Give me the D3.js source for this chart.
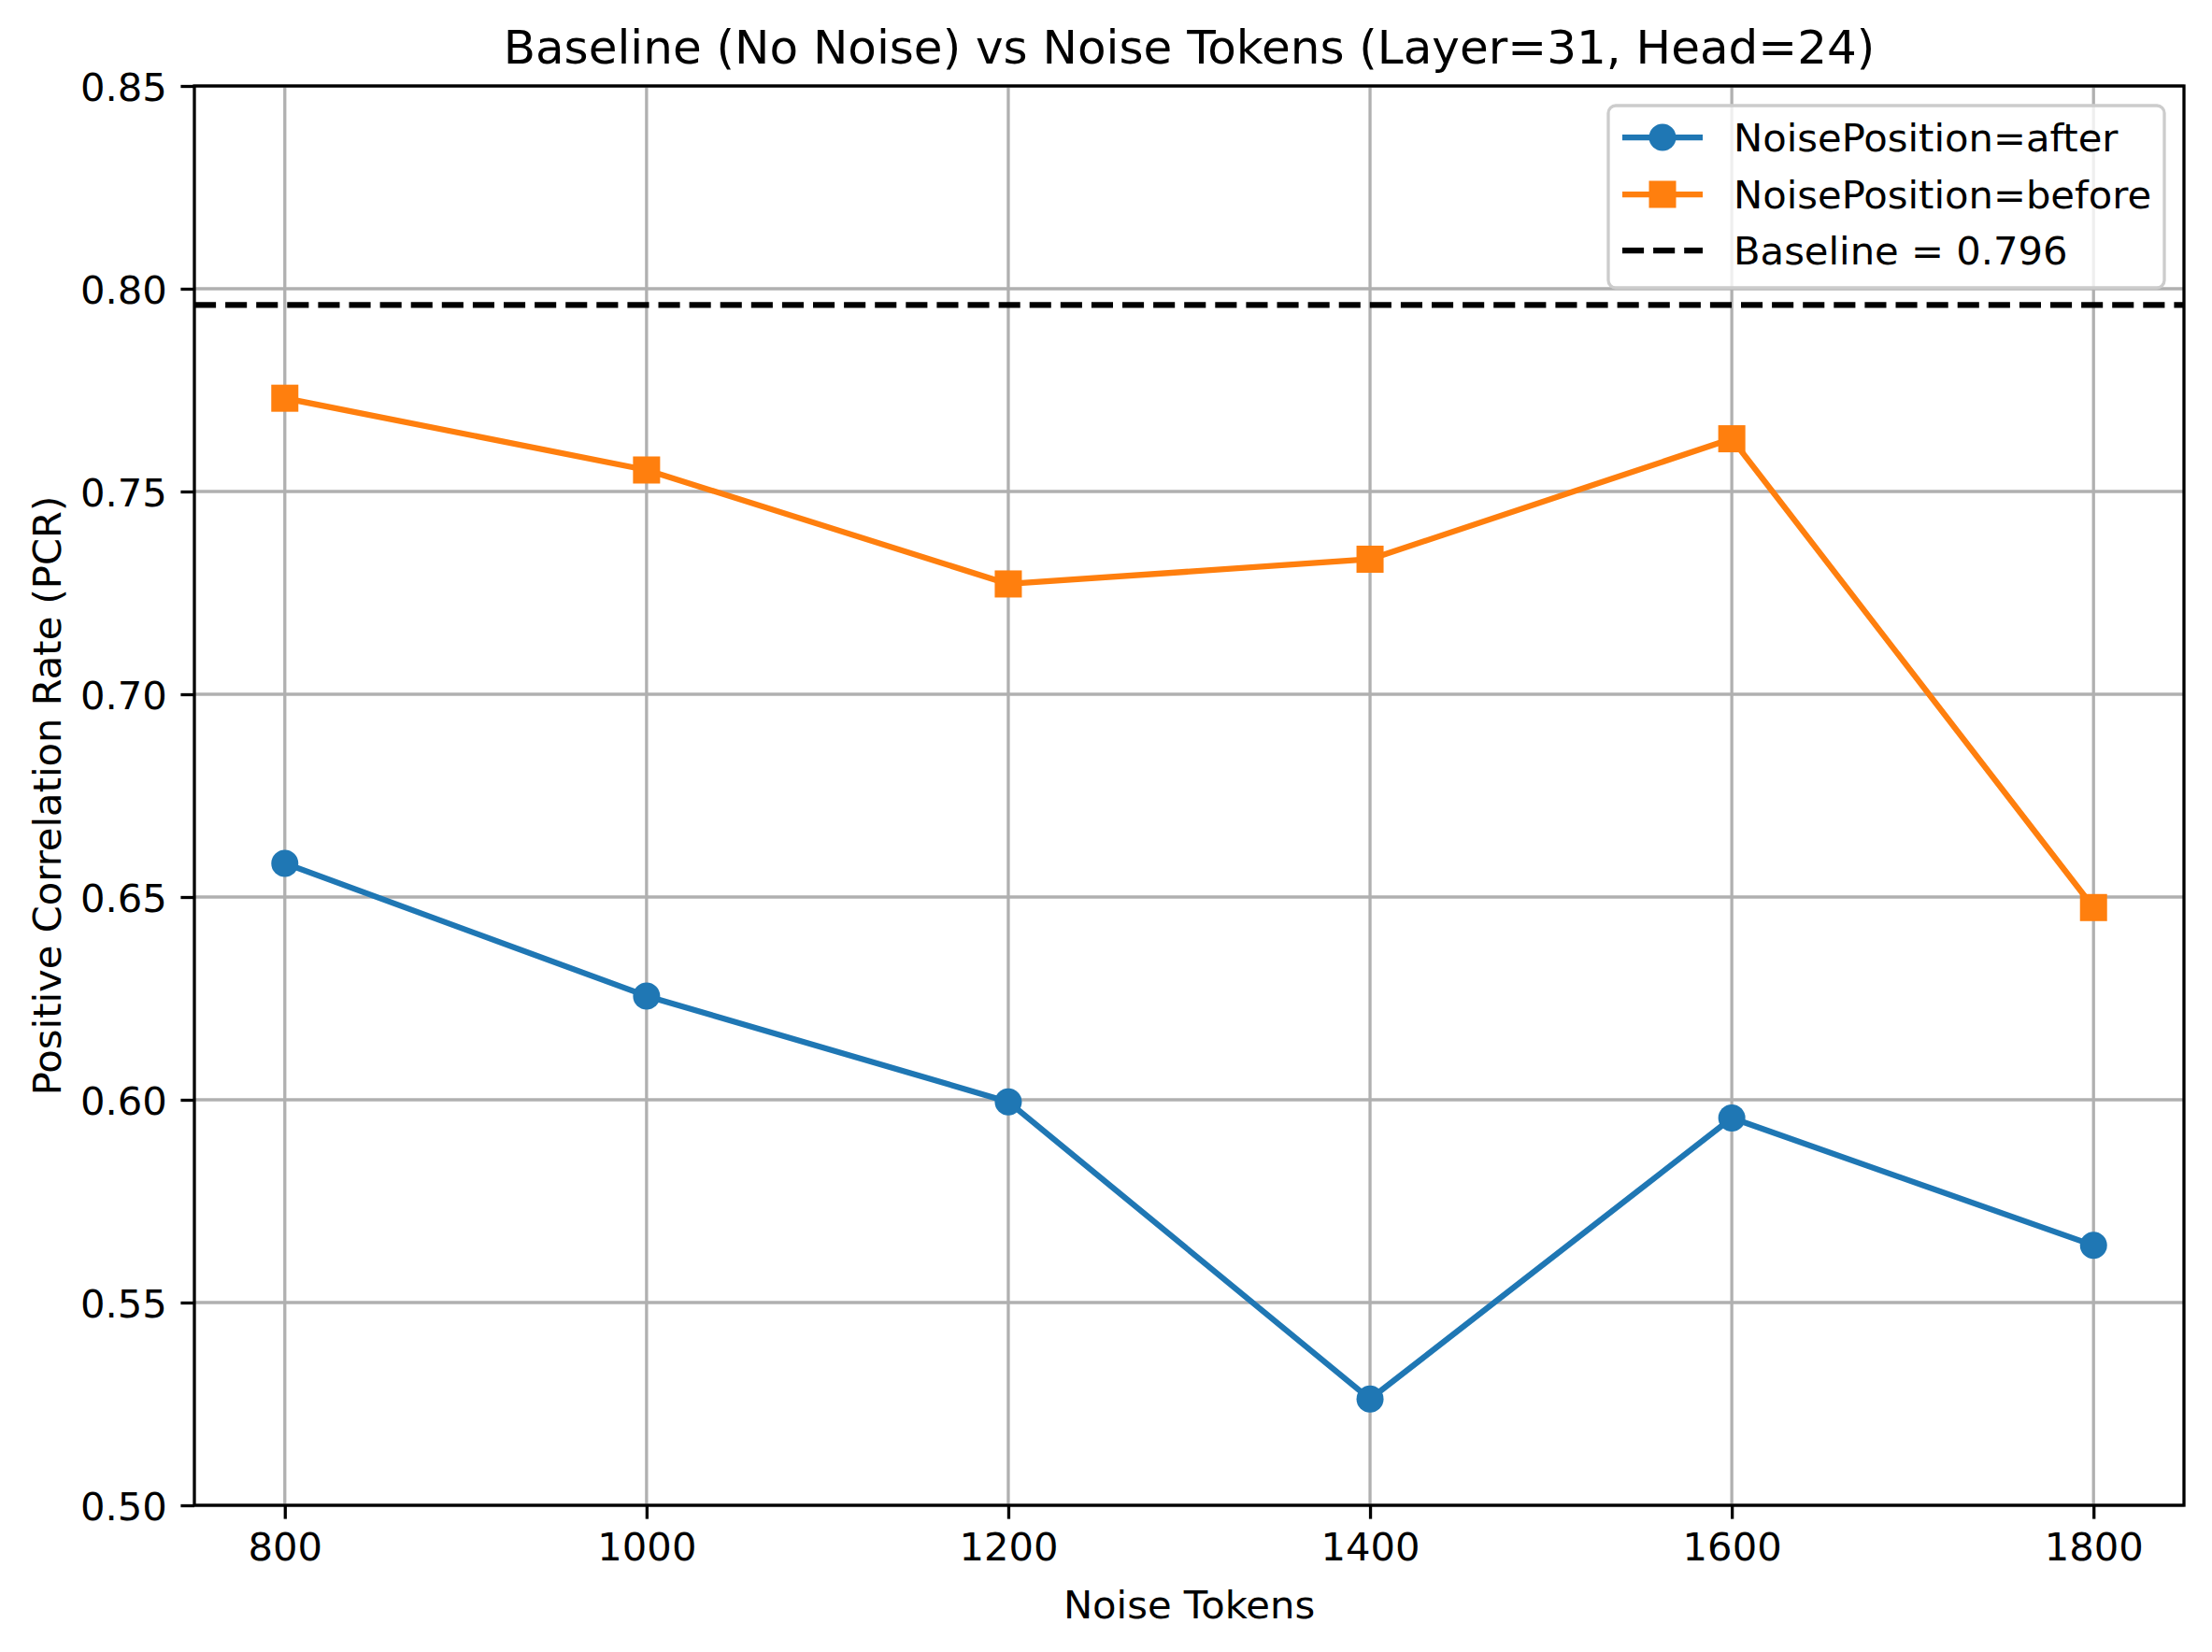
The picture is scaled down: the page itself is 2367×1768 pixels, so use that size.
<html lang="en">
  <head>
    <title>Baseline vs Noise Tokens</title>
    <script src="https://d3js.org/d3.v7.min.js"></script>
    <style>
    body { margin: 0; background: white; }
    svg text { font-family: "DejaVu Sans", sans-serif; fill: black; }
    </style>
  </head>
  <body>
    <svg class="chart"></svg>
    <script>
      // data
      var noiseTokens = [800, 1000, 1200, 1400, 1600, 1800];
      var afterValues = [0.6583, 0.6256, 0.5995, 0.5262, 0.5955, 0.5641];
      var beforeValues = [0.7730, 0.7553, 0.7272, 0.7333, 0.7630, 0.6474];
      var baselineValue = 0.796;
      var yTickValues = [0.50, 0.55, 0.60, 0.65, 0.70, 0.75, 0.80, 0.85];
      var xTickValues = [800, 1000, 1200, 1400, 1600, 1800];
      var seriesNames = ["NoisePosition=after", "NoisePosition=before", "Baseline = 0.796"];

      var W = 2367, H = 1768;
      var pLeft = 208, pTop = 92, pRight = 2337, pBottom = 1611;
      var fs = 41.7, lw = 6.25, gridw = 3.3, ms = 29;

      var svg = d3.select(".chart").attr("width", W).attr("height", H);

      var x = d3.scaleLinear().domain([750, 1850]).range([pLeft, pRight]);
      var y = d3.scaleLinear().domain([0.5, 0.85]).range([pBottom, pTop]);

      // grid
      var grid = svg.append("g");
      grid.selectAll(".gx").data(xTickValues).enter().append("line")
        .attr("x1", function(d){ return x(d); }).attr("x2", function(d){ return x(d); })
        .attr("y1", pTop).attr("y2", pBottom)
        .attr("stroke", "#b0b0b0").attr("stroke-width", gridw);
      grid.selectAll(".gy").data(yTickValues).enter().append("line")
        .attr("y1", function(d){ return y(d); }).attr("y2", function(d){ return y(d); })
        .attr("x1", pLeft).attr("x2", pRight)
        .attr("stroke", "#b0b0b0").attr("stroke-width", gridw);

      // axes
      var xAxis = svg.append("g").attr("transform", "translate(0," + pBottom + ")")
        .call(d3.axisBottom(x).tickValues(xTickValues).tickSize(14.6).tickPadding(14.6).tickFormat(d3.format("d")));
      var yAxis = svg.append("g").attr("transform", "translate(" + pLeft + ",0)")
        .call(d3.axisLeft(y).tickValues(yTickValues).tickSize(14.6).tickPadding(14.6).tickFormat(d3.format(".2f")));
      [xAxis, yAxis].forEach(function(a){
        a.select(".domain").remove();
        a.selectAll(".tick line").attr("stroke", "black").attr("stroke-width", gridw);
        a.selectAll(".tick text").attr("font-size", fs).attr("font-family", "DejaVu Sans").attr("fill", "black");
      });
      xAxis.selectAll(".tick text").attr("dy", "0.71em");
      yAxis.selectAll(".tick text").attr("dy", "0.36em");

      // series lines
      var line = d3.line()
        .x(function(d, i){ return x(noiseTokens[i]); })
        .y(function(d){ return y(d); });

      svg.append("path").datum(afterValues).attr("d", line)
        .attr("fill", "none").attr("stroke", "#1f77b4").attr("stroke-width", lw)
        .attr("stroke-linejoin", "round").attr("stroke-linecap", "square");
      svg.selectAll(".dotA").data(afterValues).enter().append("circle")
        .attr("cx", function(d, i){ return x(noiseTokens[i]); })
        .attr("cy", function(d){ return y(d); })
        .attr("r", ms / 2).attr("fill", "#1f77b4");

      svg.append("path").datum(beforeValues).attr("d", line)
        .attr("fill", "none").attr("stroke", "#ff7f0e").attr("stroke-width", lw)
        .attr("stroke-linejoin", "round").attr("stroke-linecap", "square");
      svg.selectAll(".dotB").data(beforeValues).enter().append("rect")
        .attr("x", function(d, i){ return x(noiseTokens[i]) - ms / 2; })
        .attr("y", function(d){ return y(d) - ms / 2; })
        .attr("width", ms).attr("height", ms).attr("fill", "#ff7f0e");

      // baseline
      svg.append("line")
        .attr("x1", pLeft).attr("x2", pRight)
        .attr("y1", y(baselineValue)).attr("y2", y(baselineValue))
        .attr("stroke", "black").attr("stroke-width", lw)
        .attr("stroke-dasharray", "23.1,10");

      // frame
      svg.append("rect").attr("x", pLeft).attr("y", pTop)
        .attr("width", pRight - pLeft).attr("height", pBottom - pTop)
        .attr("fill", "none").attr("stroke", "black").attr("stroke-width", gridw);

      // legend
      var lg = svg.append("g");
      lg.append("rect").attr("x", 1721).attr("y", 113).attr("width", 595).attr("height", 195)
        .attr("rx", 8).attr("fill", "white").attr("fill-opacity", 0.8)
        .attr("stroke", "#cccccc").attr("stroke-width", gridw);
      var rowY = [147, 208, 268];
      var hx0 = 1736, hx1 = 1822, tx = 1855;
      var colors = ["#1f77b4", "#ff7f0e", "black"];
      seriesNames.forEach(function(name, i){
        var l = lg.append("line").attr("x1", hx0).attr("x2", hx1)
          .attr("y1", rowY[i]).attr("y2", rowY[i])
          .attr("stroke", colors[i]).attr("stroke-width", lw);
        if (i == 2) l.attr("stroke-dasharray", "23.1,10");
        if (i == 0) lg.append("circle").attr("cx", (hx0 + hx1) / 2).attr("cy", rowY[i]).attr("r", ms / 2).attr("fill", colors[i]);
        if (i == 1) lg.append("rect").attr("x", (hx0 + hx1) / 2 - ms / 2).attr("y", rowY[i] - ms / 2)
          .attr("width", ms).attr("height", ms).attr("fill", colors[i]);
        lg.append("text").attr("x", tx).attr("y", rowY[i]).attr("dy", "0.36em")
          .attr("font-size", fs).text(name);
      });

      // titles
      svg.append("text").attr("x", (pLeft + pRight) / 2).attr("y", 68)
        .attr("text-anchor", "middle").attr("font-size", 50)
        .text("Baseline (No Noise) vs Noise Tokens (Layer=31, Head=24)");
      svg.append("text").attr("x", (pLeft + pRight) / 2).attr("y", 1732)
        .attr("text-anchor", "middle").attr("font-size", fs)
        .text("Noise Tokens");
      svg.append("text").attr("transform", "translate(50," + (pTop + pBottom) / 2 + ") rotate(-90)")
        .attr("text-anchor", "middle").attr("dy", "0.36em").attr("font-size", fs)
        .text("Positive Correlation Rate (PCR)");
    </script>
  </body>
</html>
